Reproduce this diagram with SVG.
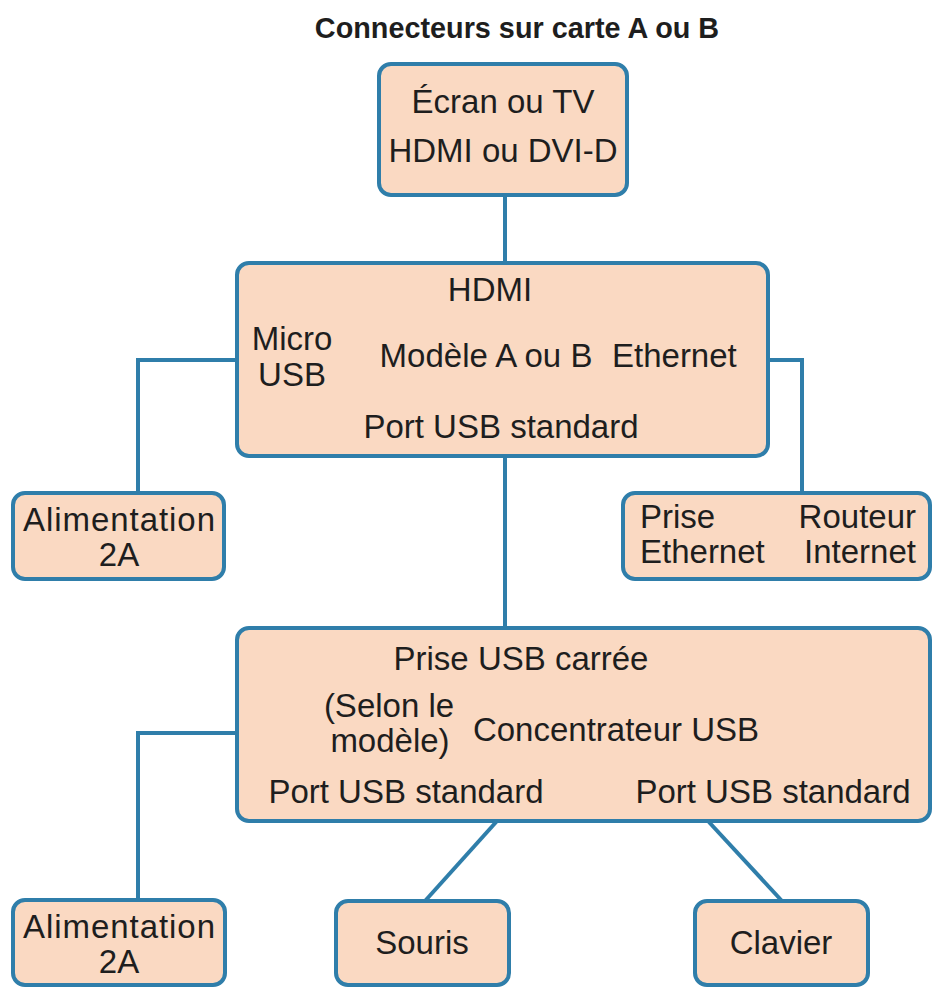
<svg xmlns="http://www.w3.org/2000/svg" width="933" height="989" viewBox="0 0 933 989">
<style>
.box{fill:#fad9c2;stroke:#2f7eaa;stroke-width:4}
.con{fill:none;stroke:#2f7eaa;stroke-width:4}
text{font-family:"Liberation Sans",Arial,sans-serif;font-size:33px;fill:#1e1e1e}
.m{text-anchor:middle}
.e{text-anchor:end}
.title{font-weight:bold;font-size:28.8px}
</style>
<rect width="933" height="989" fill="#ffffff"/>
<text class="title m" x="517" y="38">Connecteurs sur carte A ou B</text>
<g id="connectors">
<path class="con" d="M505 195 V263"/>
<path class="con" d="M237 360 H138 V493"/>
<path class="con" d="M768 360 H802 V493"/>
<path class="con" d="M505 456 V628"/>
<path class="con" d="M237 733 H138 V900"/>
<path class="con" d="M497 821 L425 901"/>
<path class="con" d="M708 821 L782 901"/>
</g>
<g id="ecran">
<rect class="box" x="379" y="64" width="248" height="131" rx="12"/>
<text class="m" x="503" y="113">Écran ou TV</text>
<text class="m" x="503" y="162">HDMI ou DVI-D</text>
</g>
<g id="carte">
<rect class="box" x="237" y="263" width="531" height="193" rx="12"/>
<text class="m" x="490" y="301">HDMI</text>
<text class="m" x="292" y="350">Micro</text>
<text class="m" x="292" y="386">USB</text>
<text class="m" x="486" y="367">Modèle A ou B</text>
<text x="612" y="367">Ethernet</text>
<text class="m" x="501" y="438">Port USB standard</text>
</g>
<g id="alim1">
<rect class="box" x="13" y="493" width="211" height="86" rx="12"/>
<text class="m" x="119" y="531" textLength="192">Alimentation</text>
<text class="m" x="119" y="566">2A</text>
</g>
<g id="prise-ethernet">
<rect class="box" x="623" y="493" width="307" height="86" rx="12"/>
<text x="640" y="528">Prise</text>
<text x="640" y="563">Ethernet</text>
<text class="e" x="916" y="528">Routeur</text>
<text class="e" x="916" y="563">Internet</text>
</g>
<g id="hub">
<rect class="box" x="237" y="628" width="693" height="193" rx="12"/>
<text class="m" x="521" y="670">Prise USB carrée</text>
<text class="m" x="389" y="717">(Selon le</text>
<text class="m" x="390" y="752">modèle)</text>
<text class="m" x="616" y="741">Concentrateur USB</text>
<text class="m" x="406" y="803">Port USB standard</text>
<text class="m" x="773" y="803">Port USB standard</text>
</g>
<g id="alim2">
<rect class="box" x="13" y="900" width="212" height="85" rx="12"/>
<text class="m" x="119" y="938" textLength="192">Alimentation</text>
<text class="m" x="119" y="973">2A</text>
</g>
<g id="souris">
<rect class="box" x="336" y="901" width="173" height="84" rx="12"/>
<text class="m" x="422" y="954">Souris</text>
</g>
<g id="clavier">
<rect class="box" x="695" y="901" width="173" height="84" rx="12"/>
<text class="m" x="781" y="954">Clavier</text>
</g>
</svg>
